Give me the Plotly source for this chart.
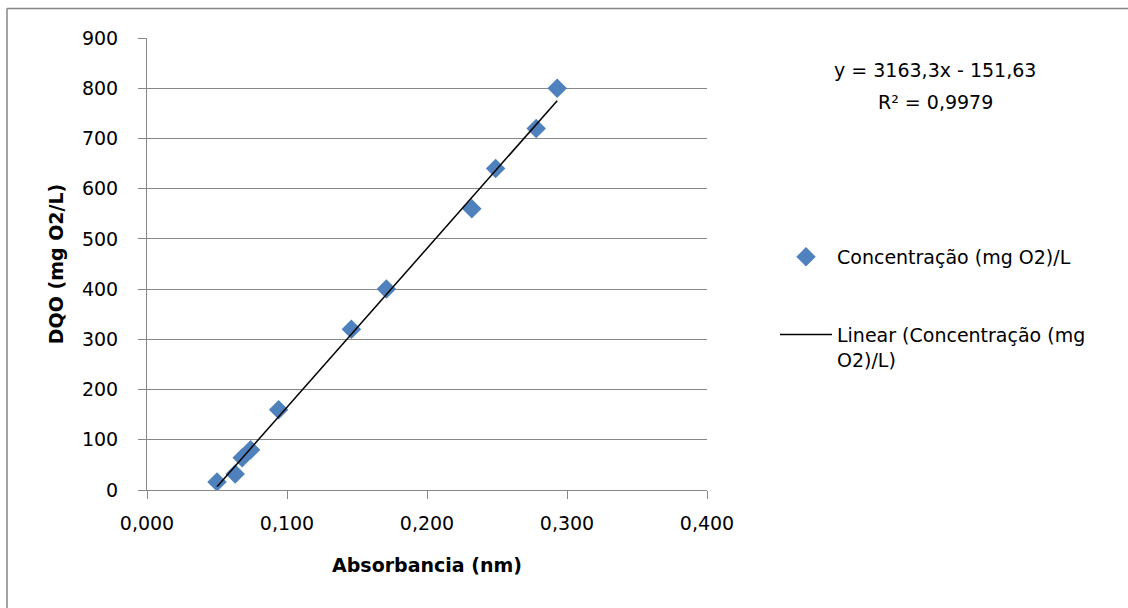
import plotly.graph_objects as go

# Data
absorbancia = [0.050, 0.063, 0.068, 0.074, 0.094, 0.146, 0.171, 0.232, 0.249, 0.278, 0.293]
dqo = [16, 32, 64, 80, 160, 320, 400, 560, 640, 720, 800]

slope = 3163.3
intercept = -151.63
r2 = 0.9979

x_tick_vals = [0.0, 0.1, 0.2, 0.3, 0.4]
x_tick_text = ["0,000", "0,100", "0,200", "0,300", "0,400"]
y_tick_vals = [0, 100, 200, 300, 400, 500, 600, 700, 800, 900]

series_name = "Concentração (mg O2)/L"
trend_name = "Linear (Concentração (mg<br>O2)/L)"

FONT = "DejaVu Sans"
FS = 19
GRID = "#888888"

W, H = 1128, 608
ML, MR, MT, MB = 147, 421, 38, 118
PW, PH = W - ML - MR, H - MT - MB


def px(xp):
    return (xp - ML) / PW


def py(yp):
    return (H - MB - yp) / PH


trend_x = [min(absorbancia), max(absorbancia)]
trend_y = [slope * v + intercept for v in trend_x]

fig = go.Figure()
fig.add_trace(go.Scatter(
    x=absorbancia, y=dqo, mode="markers", name=series_name,
    marker=dict(symbol="diamond", size=15, color="#4F81BD", line=dict(width=0)),
    legendgroup="a", hoverinfo="skip",
))
fig.add_trace(go.Scatter(
    x=trend_x, y=trend_y, mode="lines", name=trend_name,
    line=dict(color="black", width=1.5),
    legendgroup="b", hoverinfo="skip",
))

fig.update_layout(
    width=W, height=H,
    margin=dict(l=ML, r=MR, t=MT, b=MB, pad=0),
    paper_bgcolor="white", plot_bgcolor="white",
    font=dict(family=FONT, size=FS, color="black"),
    showlegend=True,
    legend=dict(
        x=px(775), y=py(238), xanchor="left", yanchor="top",
        font=dict(family=FONT, size=FS, color="black"),
        traceorder="grouped", tracegroupgap=50,
        itemwidth=52, valign="top",
        bgcolor="rgba(0,0,0,0)",
    ),
    xaxis=dict(
        range=[0, 0.4], tickvals=x_tick_vals, ticktext=x_tick_text,
        showgrid=False, zeroline=False,
        showline=True, linecolor=GRID, linewidth=1,
        ticks="outside", ticklen=8, tickcolor=GRID, tickwidth=1,
        ticklabelstandoff=8,
        title=dict(text="<b>Absorbancia (nm)</b>", standoff=25,
                   font=dict(family=FONT, size=FS)),
    ),
    yaxis=dict(
        range=[0, 900], tickvals=y_tick_vals,
        showgrid=True, gridcolor=GRID, gridwidth=1, zeroline=False,
        showline=True, linecolor=GRID, linewidth=1,
        ticks="outside", ticklen=8, tickcolor=GRID, tickwidth=1,
        ticklabelstandoff=16,
        title=dict(text="<b>DQO (mg O2/L)</b>", standoff=13,
                   font=dict(family=FONT, size=FS)),
    ),
)

eq_line1 = f"y = {slope:.1f}x - {abs(intercept):.2f}".replace(".", ",")
eq_line2 = f"R² = {r2:.4f}".replace(".", ",")
for txt, ypos in ((eq_line1, 70), (eq_line2, 102)):
    fig.add_annotation(
        x=px(935), y=py(ypos), xref="paper", yref="paper",
        text=txt, showarrow=False, align="center",
        xanchor="center", yanchor="middle",
        font=dict(family=FONT, size=FS, color="black"),
    )

# Chart-area border (left and top edges visible in the reference)
fig.add_shape(type="line", xref="paper", yref="paper",
              x0=px(7), x1=px(7), y0=py(H), y1=py(8.5),
              line=dict(color="#868686", width=1.5))
fig.add_shape(type="line", xref="paper", yref="paper",
              x0=px(7), x1=px(W), y0=py(8.5), y1=py(8.5),
              line=dict(color="#868686", width=1.5))

fig.write_html("out.html",
               config={"displayModeBar": False},
               post_script="document.body.style.margin='0px';document.body.style.padding='0px';")
